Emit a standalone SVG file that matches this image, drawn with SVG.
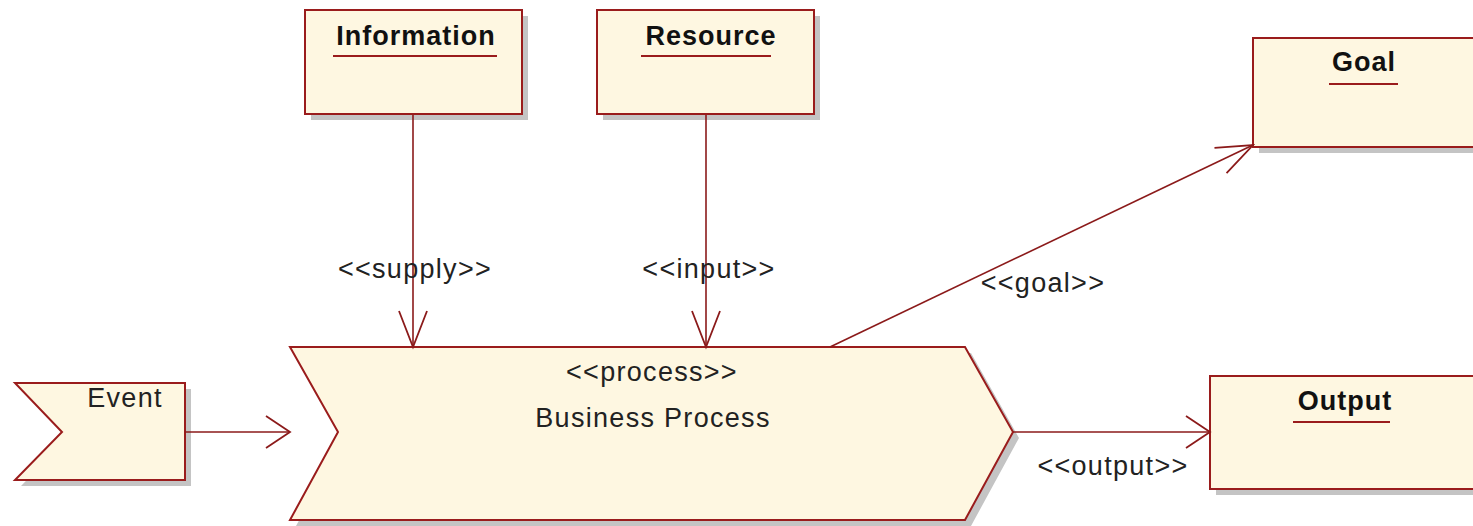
<svg xmlns="http://www.w3.org/2000/svg" width="1473" height="526" viewBox="0 0 1473 526">
  <style>
    .shadow { fill: #c4c4c4; }
    .box { fill: #fef7e1; stroke: #9a1c1c; stroke-width: 2; }
    .title { font-family: "Liberation Sans", Arial, sans-serif; font-size: 27px; font-weight: bold; letter-spacing: 1px; fill: #111; text-anchor: middle; }
    .uline { stroke: #9a1c1c; stroke-width: 2; }
    .txt { font-family: "Liberation Sans", Arial, sans-serif; font-size: 27px; letter-spacing: 1.3px; fill: #222; text-anchor: middle; }
    .edge { fill: none; stroke: #8b1a1a; stroke-width: 1.6; }
  </style>
  <defs>
    <!-- long open arrowhead (vertical and diagonal flows) -->
    <marker id="openLong" markerUnits="userSpaceOnUse" markerWidth="40" markerHeight="32" refX="37" refY="15" orient="auto" viewBox="0 0 40 30">
      <path d="M1,1 L37,15 L1,29" fill="none" stroke="#8b1a1a" stroke-width="1.8"/>
    </marker>
    <!-- short open arrowhead (horizontal flows) -->
    <marker id="openShort" markerUnits="userSpaceOnUse" markerWidth="30" markerHeight="36" refX="26" refY="17" orient="auto" viewBox="0 0 30 34">
      <path d="M2,1 L26,17 L2,33" fill="none" stroke="#8b1a1a" stroke-width="1.8"/>
    </marker>
  </defs>

  <rect width="1473" height="526" fill="#ffffff"/>

  <g id="information">
    <rect class="shadow" x="311" y="16" width="217" height="104"/>
    <rect class="box" x="305" y="10" width="217" height="104"/>
    <text class="title" x="416" y="45">Information</text>
    <line class="uline" x1="333" y1="56" x2="497" y2="56"/>
  </g>

  <g id="resource">
    <rect class="shadow" x="603" y="16" width="217" height="104"/>
    <rect class="box" x="597" y="10" width="217" height="104"/>
    <text class="title" x="711" y="45">Resource</text>
    <line class="uline" x1="641" y1="56" x2="771" y2="56"/>
  </g>

  <g id="goal">
    <rect class="shadow" x="1259" y="44" width="220" height="109"/>
    <rect class="box" x="1253" y="38" width="230" height="109"/>
    <text class="title" x="1364" y="71">Goal</text>
    <line class="uline" x1="1329" y1="84" x2="1398" y2="84"/>
  </g>

  <g id="output">
    <rect class="shadow" x="1216" y="382" width="263" height="113"/>
    <rect class="box" x="1210" y="376" width="273" height="113"/>
    <text class="title" x="1345" y="410">Output</text>
    <line class="uline" x1="1293" y1="422" x2="1390" y2="422"/>
  </g>

  <g id="event">
    <polygon class="shadow" points="21,389 191,389 191,486 21,486 68,438"/>
    <polygon class="box" points="15,383 185,383 185,480 15,480 62,432"/>
    <text class="txt" x="125" y="407">Event</text>
  </g>

  <g id="business-process">
    <polygon class="shadow" points="296,353 971,353 1019,438 971,526 296,526 344,438"/>
    <polygon class="box" points="290,347 965,347 1013,432 965,520 290,520 338,432"/>
    <text class="txt" x="652" y="381">&lt;&lt;process&gt;&gt;</text>
    <text class="txt" x="653" y="427">Business Process</text>
  </g>

  <g id="connectors">
    <line class="edge" x1="413" y1="115" x2="413" y2="347" marker-end="url(#openLong)"/>
    <text class="txt" x="415" y="278">&lt;&lt;supply&gt;&gt;</text>

    <line class="edge" x1="706" y1="115" x2="706" y2="347" marker-end="url(#openLong)"/>
    <text class="txt" x="709" y="278">&lt;&lt;input&gt;&gt;</text>

    <line class="edge" x1="830" y1="347" x2="1253" y2="145" marker-end="url(#openLong)"/>
    <text class="txt" x="1043" y="292">&lt;&lt;goal&gt;&gt;</text>

    <line class="edge" x1="185" y1="432" x2="290" y2="432" marker-end="url(#openShort)"/>

    <line class="edge" x1="1013" y1="432" x2="1210" y2="432" marker-end="url(#openShort)"/>
    <text class="txt" x="1113" y="475">&lt;&lt;output&gt;&gt;</text>
  </g>
</svg>
